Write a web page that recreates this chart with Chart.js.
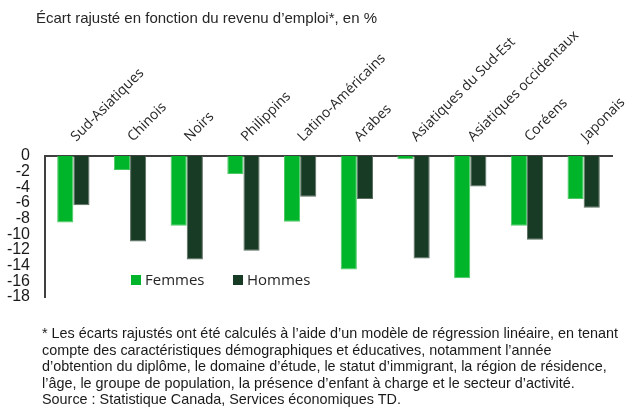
<!DOCTYPE html>
<html>
<head>
<meta charset="utf-8">
<script src="https://cdn.jsdelivr.net/npm/chart.js@4.4.1/dist/chart.umd.min.js"></script>
<style>
  html, body { margin: 0; padding: 0; background: #fff; }
  #wrap { position: relative; width: 628px; height: 410px; overflow: hidden; }
  #c { position: absolute; left: 0; top: 0; }
  #title { position: absolute; left: 36px; top: 8px; font-family: "Liberation Sans", Arial, sans-serif; font-size: 15px; color: #262626; white-space: nowrap; line-height: 20px; }
  #note { position: absolute; left: 42px; top: 325px; font-family: "Liberation Sans", Arial, sans-serif; font-size: 14.4px; color: #1a1a1a; line-height: 16.5px; white-space: nowrap; }
</style>
</head>
<body>
<div id="wrap">
  <canvas id="c" width="628" height="410"></canvas>
  <div id="title">Écart rajusté en fonction du revenu d’emploi*, en %</div>
  <div id="note">* Les écarts rajustés ont été calculés à l’aide d’un modèle de régression linéaire, en tenant<br>compte des caractéristiques démographiques et éducatives, notamment l’année<br>d’obtention du diplôme, le domaine d’étude, le statut d’immigrant, la région de résidence,<br>l’âge, le groupe de population, la présence d’enfant à charge et le secteur d’activité.<br>Source : Statistique Canada, Services économiques TD.</div>
</div>
<script>
const categories = ["Sud-Asiatiques", "Chinois", "Noirs", "Philippins", "Latino-Américains", "Arabes", "Asiatiques du Sud-Est", "Asiatiques occidentaux", "Coréens", "Japonais"];
const femmes = [-8.5, -1.8, -8.9, -2.3, -8.4, -14.5, -0.4, -15.6, -8.9, -5.5];
const hommes = [-6.3, -10.9, -13.2, -12.1, -5.2, -5.5, -13.1, -3.9, -10.7, -6.6];
const seriesNames = ["Femmes", "Hommes"];
const yTicks = { min: -18, max: 0, step: 2 };

const legendPlugin = {
  id: 'innerLegend',
  afterDraw(chart) {
    const ctx = chart.ctx;
    const pos = [{x: 131, y: 275}, {x: 233, y: 275}];
    ctx.save();
    ctx.font = '15px "Open Sans", sans-serif';
    ctx.textBaseline = 'middle';
    chart.data.datasets.forEach((ds, i) => {
      const p = pos[i];
      ctx.fillStyle = ds.backgroundColor;
      ctx.fillRect(p.x, p.y, 10, 10);
      ctx.fillStyle = '#262626';
      ctx.fillText(ds.label, p.x + 14, p.y + 5.5);
    });
    ctx.restore();
  }
};

new Chart(document.getElementById('c'), {
  type: 'bar',
  data: {
    labels: categories,
    datasets: [
      { label: seriesNames[0], data: femmes, backgroundColor: '#00B52A', borderColor: '#4cc865', borderWidth: 1 },
      { label: seriesNames[1], data: hommes, backgroundColor: '#173B24', borderColor: '#5d6e62', borderWidth: 1 }
    ]
  },
  options: {
    responsive: false,
    animation: false,
    devicePixelRatio: 1,
    categoryPercentage: 0.57,
    barPercentage: 1.0,
    layout: { padding: { left: 0, right: 16, top: 30, bottom: 113 } },
    plugins: { legend: { display: false }, tooltip: { enabled: false } },
    scales: {
      x: {
        position: 'top',
        grid: { display: false, drawTicks: false },
        border: { display: true, color: '#404040', width: 2 },
        ticks: { minRotation: 45, maxRotation: 45, autoSkip: false, padding: 11, labelOffset: 12, color: '#262626', font: { family: '"Open Sans", sans-serif', size: 14 } },
        afterFit(s) { s.height = 126; s.paddingLeft = 0; s.paddingRight = 0; }
      },
      y: {
        min: yTicks.min, max: yTicks.max,
        grid: { display: false, drawTicks: false },
        border: { display: true, color: '#404040', width: 2 },
        ticks: { stepSize: yTicks.step, autoSkip: false, padding: 15, color: '#1a1a1a', font: { family: '"Liberation Sans", Arial, sans-serif', size: 16 } },
        afterFit(s) { s.width = 45; }
      }
    }
  },
  plugins: [legendPlugin]
});
</script>
</body>
</html>
